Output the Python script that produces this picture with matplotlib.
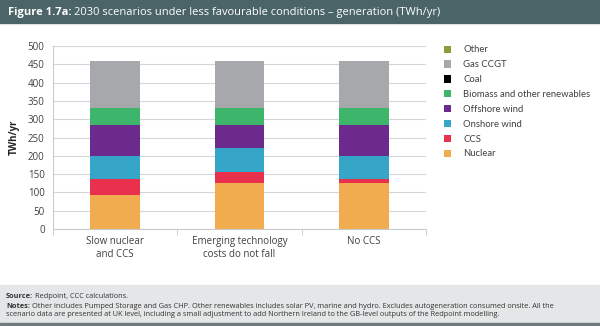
import numpy as np
import matplotlib
matplotlib.use("Agg")
import matplotlib.pyplot as plt
from matplotlib.patches import Rectangle, Patch

plt.rcParams["font.family"] = ["Open Sans", "DejaVu Sans"]

# ── Data (TWh/yr) ─────────────────────────────────────────────────────────────
scenarios = ["Slow nuclear\nand CCS", "Emerging technology\ncosts do not fall", "No CCS"]
nuclear  = [94, 126, 127]
ccs      = [42, 31, 9]
onshore  = [64, 63, 64]
offshore = [85, 65, 85]
biomass  = [45, 45, 45]
coal     = [0, 0, 0]
gas      = [128, 128, 128]
other    = [2, 2, 2]

series = [
    ("Nuclear", nuclear, "#f0ac4f"),
    ("CCS", ccs, "#e9304c"),
    ("Onshore wind", onshore, "#35a5c8"),
    ("Offshore wind", offshore, "#6c2a8c"),
    ("Biomass and other renewables", biomass, "#3db56a"),
    ("Coal", coal, "#000000"),
    ("Gas CCGT", gas, "#a6a8ab"),
    ("Other", other, "#8b9c3a"),
]

W, H = 600, 326
fig = plt.figure(figsize=(6, 3.26), dpi=100)

# title bar and footer box
fig.patches.append(Rectangle((0, 1 - 23 / H), 1, 23 / H, transform=fig.transFigure,
                             color="#4b6467", zorder=0))
fig.patches.append(Rectangle((0, 3 / H), 1, (323 - 285) / H, transform=fig.transFigure,
                             color="#e5e6e7", zorder=0))
fig.patches.append(Rectangle((0, 0), 1, 3 / H, transform=fig.transFigure,
                             color="#6f7b7e", zorder=0))

ax = fig.add_axes([53 / W, 1 - 229 / H, (426 - 53) / W, (229 - 46) / H])

x = np.arange(len(scenarios))
bottom = np.zeros(len(scenarios))
for name, vals, col in series:
    ax.bar(x, vals, bottom=bottom, width=0.4, color=col, zorder=3, linewidth=0)
    bottom += np.array(vals)

ax.set_xlim(-0.5, 2.5)
ax.set_ylim(0, 500)
ax.set_yticks(np.arange(0, 501, 50))
ax.yaxis.grid(True, color="#d4d6d8", linewidth=0.8, zorder=0)
ax.set_xticks(x)
ax.set_xticklabels(scenarios, fontsize=7, color="#404040", linespacing=1.3)
ax.set_xticks([-0.5, 0.5, 1.5, 2.5], minor=True)
ax.tick_params(axis="x", which="major", length=0, pad=5)
ax.tick_params(axis="x", which="minor", length=4, color="#c8cacc")
ax.tick_params(axis="y", length=0, labelsize=7, labelcolor="#404040", pad=6)
for s in ("top", "right"):
    ax.spines[s].set_visible(False)
for s in ("left", "bottom"):
    ax.spines[s].set_color("#c8cacc")
ax.set_ylabel("TWh/yr", fontsize=7, fontweight="bold", color="#222222", labelpad=6)

handles = [Patch(facecolor=c, edgecolor="none", label=n) for n, v, c in reversed(series)]
fig.legend(handles=handles, loc="upper left", bbox_to_anchor=(435 / W, 1 - 37 / H),
           frameon=False, prop={"family": "Lato", "size": 6.8}, labelcolor="#404040",
           handlelength=0.8, handleheight=0.8, handletextpad=1.3, labelspacing=0.62)

# mixed bold / regular lines of text
renderer = fig.canvas.get_renderer()


def mixed(xpx, ypx, bold, rest, size, color):
    t = fig.text(xpx / W, 1 - ypx / H, bold, fontsize=size, fontweight="bold",
                 color=color, va="center", ha="left")
    bb = t.get_window_extent(renderer=renderer)
    fig.text(bb.x1 / W + 2 / W, 1 - ypx / H, rest, fontsize=size, color=color,
             va="center", ha="left")


mixed(8, 12, "Figure 1.7a:", "2030 scenarios under less favourable conditions \u2013 generation (TWh/yr)",
      8, "white")
mixed(6, 297, "Source:", "Redpoint, CCC calculations.", 5.3, "#333333")
mixed(6, 306, "Notes:", "Other includes Pumped Storage and Gas CHP. Other renewables includes solar PV, "
      "marine and hydro. Excludes autogeneration consumed onsite. All the", 5.3, "#333333")
fig.text(6 / W, 1 - 315 / H, "scenario data are presented at UK level, including a small adjustment "
         "to add Northern Ireland to the GB-level outputs of the Redpoint modelling.",
         fontsize=5.3, color="#333333", va="center", ha="left")

fig.savefig("out.png", dpi=100)
